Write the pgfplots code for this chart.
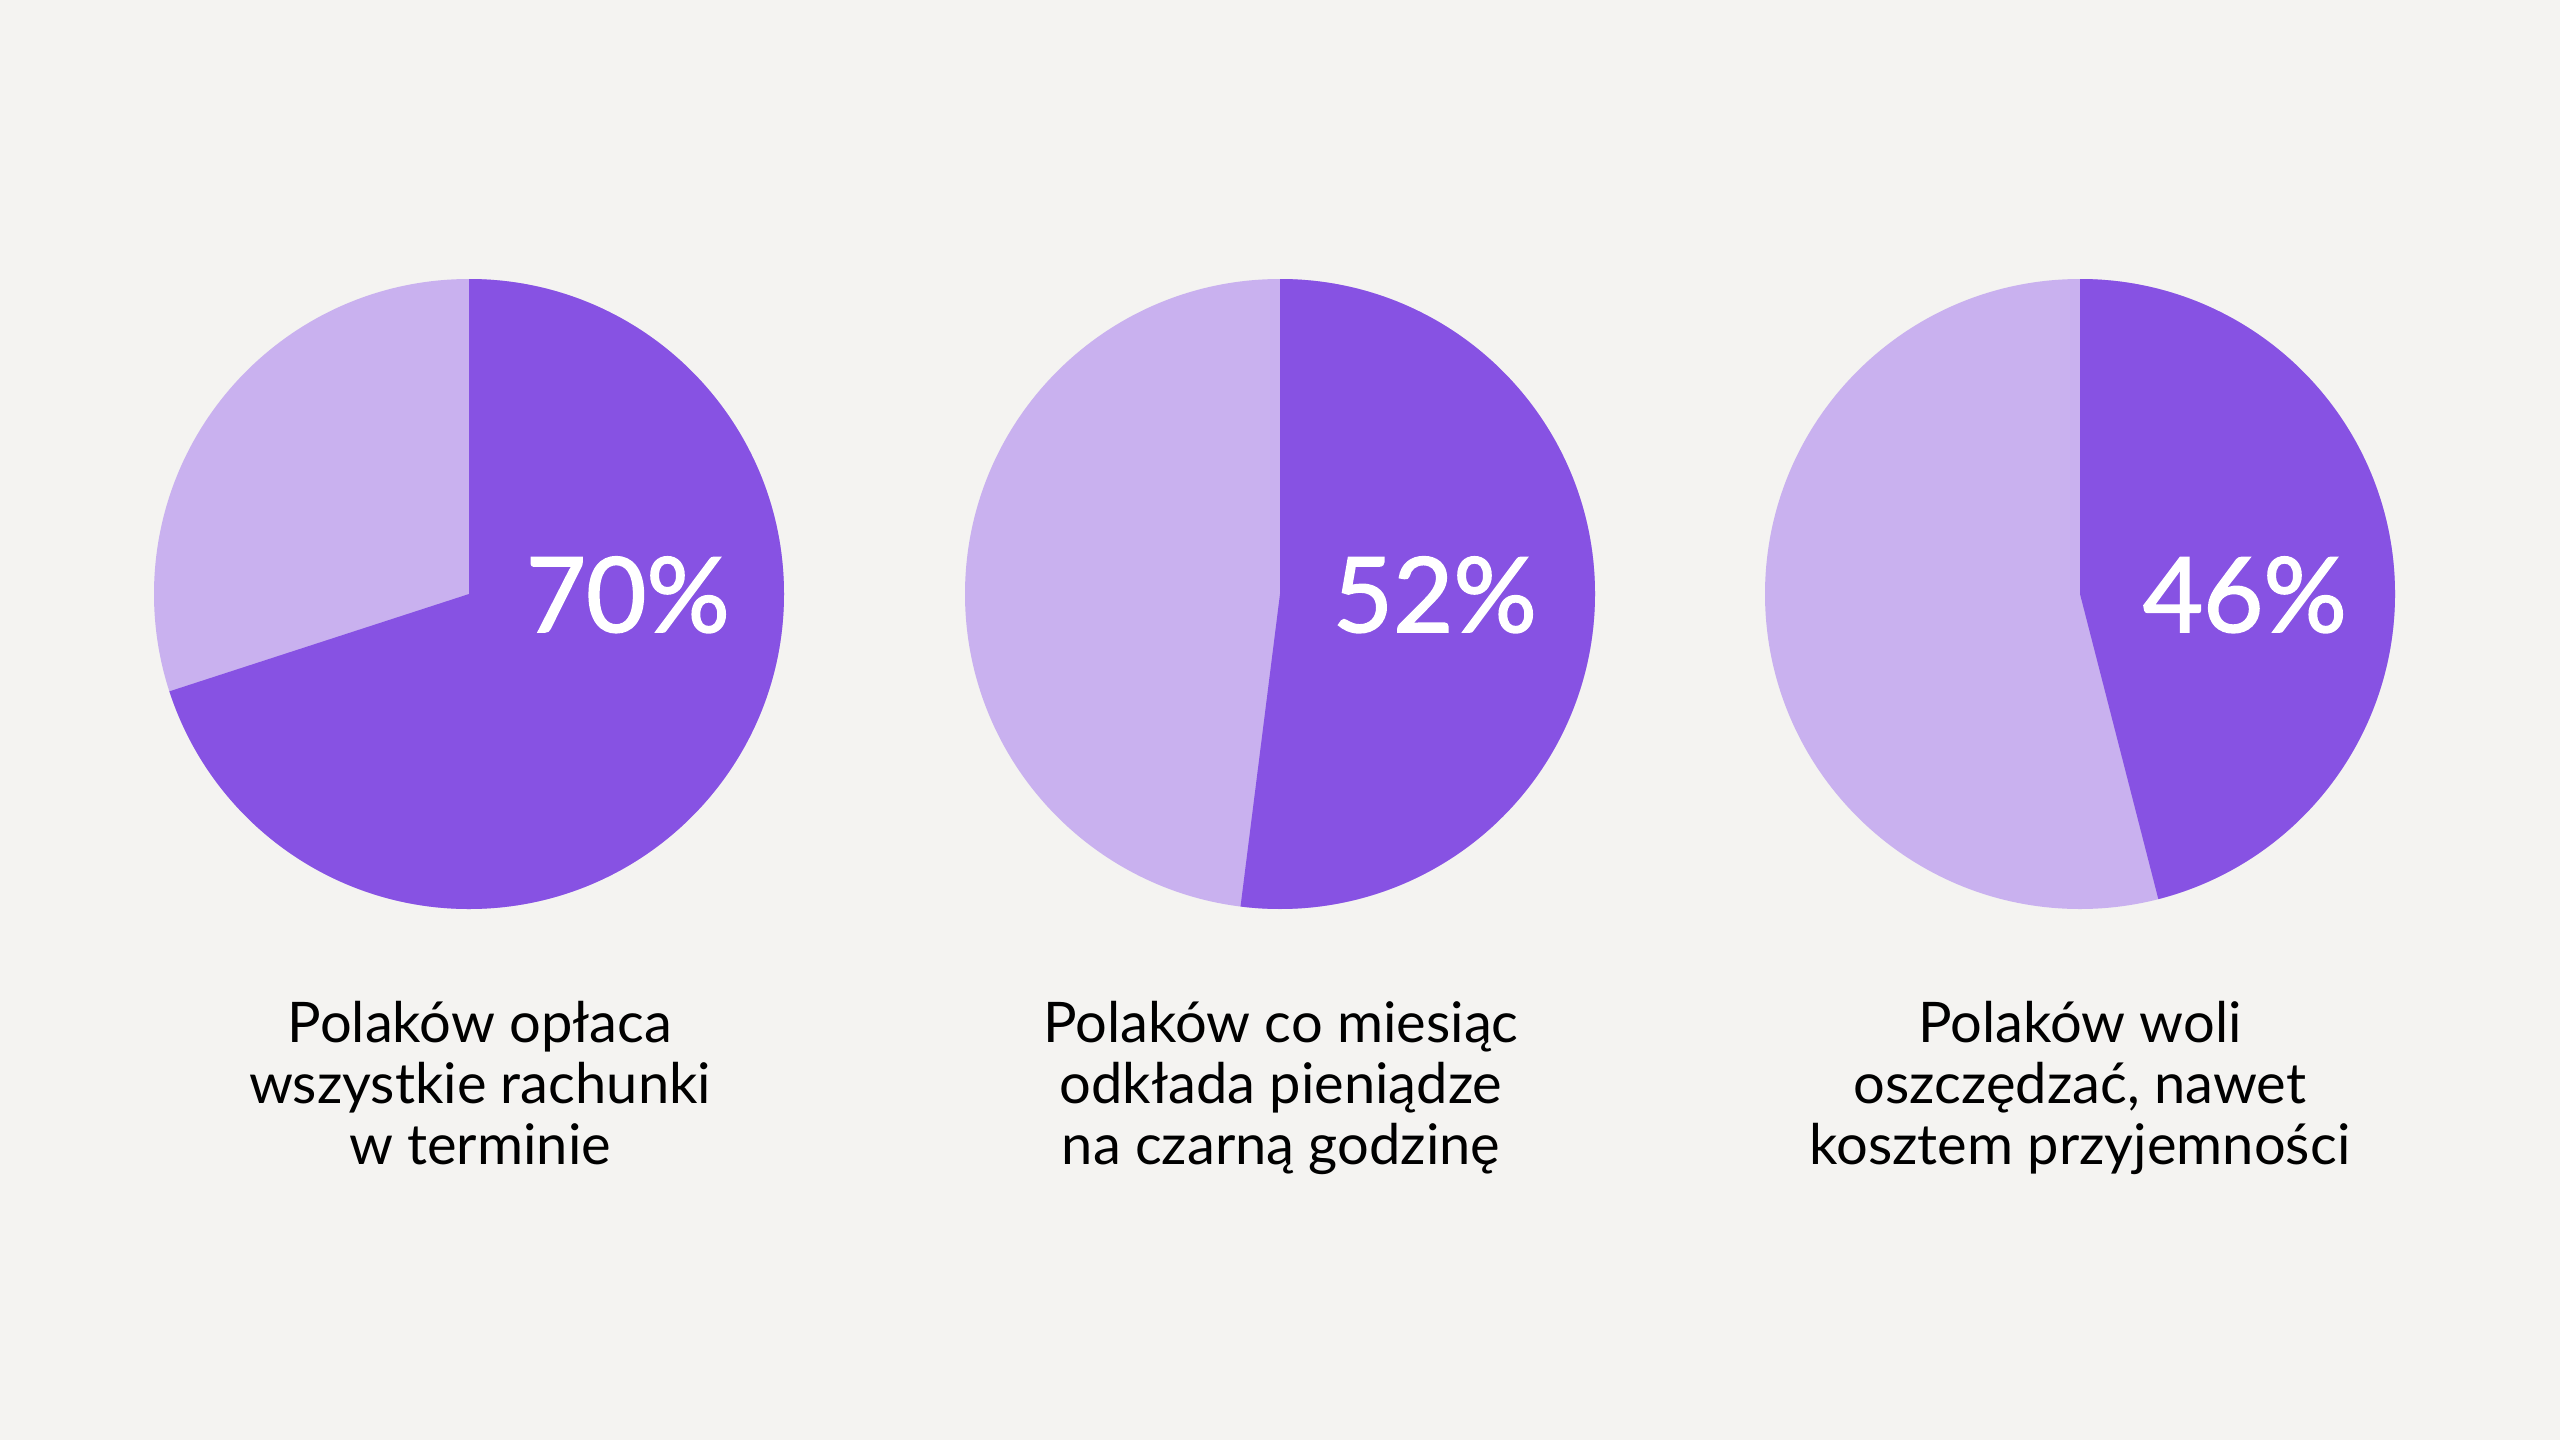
\documentclass[border=0pt]{standalone}
\usepackage{pgfplots}
\pgfplotsset{compat=1.18}
\usepackage{fontspec}
\setmainfont{Lato}
\newfontfamily\pctfont{Lato}[FakeBold=1.6]
\definecolor{bgc}{RGB}{244,243,241}
\definecolor{darkp}{RGB}{135,82,227}
\definecolor{lightp}{RGB}{201,177,239}
% values (percent)
\def\valA{70}
\def\valB{52}
\def\valC{46}
\def\R{78.75pt}
\newcommand{\pie}[3]{% cx, cy, value
  \fill[lightp] (axis cs:#1,#2) circle[radius=\R];
  \fill[darkp] (axis cs:#1,#2) -- (axis cs:#1,#2+315) arc[start angle=90, end angle={90-3.6*#3}, radius=\R] -- cycle;
}
\newcommand{\pct}[3]{\node[anchor=base west, text=white, inner sep=0pt, font=\pctfont\fontsize{26pt}{30pt}\selectfont] at (axis cs:#1,#2) {#3\%};}
\newcommand{\capt}[3]{\node[anchor=base, text=black, inner sep=0pt, font=\fontsize{14pt}{16pt}\selectfont] at (axis cs:#1,#2) {#3};}
\begin{document}
\begin{tikzpicture}
\begin{axis}[
  scale only axis, width=640pt, height=360pt,
  xmin=0, xmax=2560, ymin=0, ymax=1440,
  hide axis, clip=false]
\fill[bgc] (rel axis cs:0,0) rectangle (rel axis cs:1,1);
\pie{469}{846}{\valA}
\pie{1280}{846}{\valB}
\pie{2080}{846}{\valC}
\pct{525}{808}{\valA}
\pct{1332}{808}{\valB}
\pct{2142}{808}{\valC}
\capt{480}{398}{Polaków opłaca}
\capt{480}{337}{wszystkie rachunki}
\capt{480}{276}{w terminie}
\capt{1281}{398}{Polaków co miesiąc}
\capt{1281}{337}{odkłada pieniądze}
\capt{1281}{276}{na czarną godzinę}
\capt{2080}{398}{Polaków woli}
\capt{2080}{337}{oszczędzać, nawet}
\capt{2080}{276}{kosztem przyjemności}
\end{axis}
\end{tikzpicture}
\end{document}
